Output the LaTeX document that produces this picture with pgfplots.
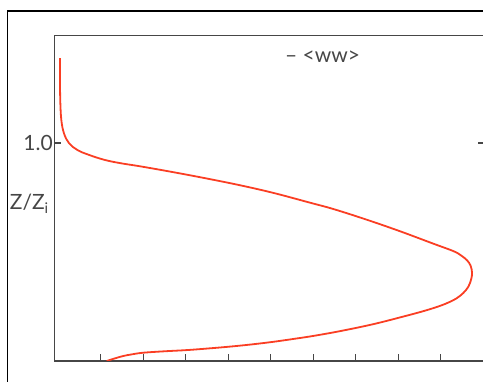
\documentclass[border=0pt]{standalone}
\usepackage{fontspec}
\setmainfont{Lato}
\usepackage{pgfplots}
\pgfplotsset{compat=1.18}
\definecolor{curve}{RGB}{250,62,35}
\definecolor{axisgray}{RGB}{70,70,70}
\begin{document}
\begin{tikzpicture}[x=1pt,y=1pt]
\clip (-54.3,-21) rectangle (428.7,361);
\draw[black,line width=1.5pt] (-47,-60) rectangle (460,350);
\begin{axis}[
  at={(0,0)}, anchor=south west,
  scale only axis,
  width=430.7pt, height=325.3pt,
  xmin=-0.092, xmax=10.04,
  ymin=0, ymax=1.492,
  axis line style={axisgray, line width=1.4pt},
  every tick/.style={axisgray, line width=1.2pt},
  tick align=inside,
  major tick length=6.5pt,
  xtick={1,2,3,4,5,6,7,8,9},
  xticklabels={},
  xtick pos=bottom,
  ytick={1},
  yticklabels={1.0},
  ytick pos=both,
  yticklabel style={font=\fontsize{21}{24}\selectfont, text=axisgray, xshift=2pt},
]
\addplot[curve, line width=1.8pt, smooth, tension=0.6] coordinates {
(1.141,0.000) (1.30,0.010) (1.532,0.023) (1.75,0.031) (2.002,0.038)
(2.5,0.0445) (3.024,0.050) (3.5,0.057) (4.042,0.066) (4.55,0.076)
(5.061,0.088) (5.53,0.101) (6.002,0.115) (6.631,0.137) (7.414,0.169)
(8.2,0.208) (8.65,0.232) (8.984,0.253) (9.20,0.270) (9.376,0.288)
(9.53,0.312) (9.649,0.341) (9.715,0.375) (9.735,0.405) (9.70,0.438)
(9.612,0.463) (9.47,0.485) (9.296,0.504) (8.826,0.538) (8.042,0.595)
(7.259,0.648) (6.473,0.697) (5.925,0.726) (5.061,0.771) (4.278,0.806)
(3.494,0.837) (2.708,0.866) (1.925,0.893) (1.471,0.907) (1.078,0.923)
(0.685,0.948) (0.449,0.968) (0.254,0.999) (0.136,1.044) (0.073,1.106)
(0.048,1.197) (0.042,1.300) (0.040,1.389)
};
\node[font=\fontsize{21}{24}\selectfont, text=axisgray, anchor=center] at (rel axis cs:0.623,0.935) {– <ww>};
\end{axis}
\node[font=\fontsize{21}{24}\selectfont, text=axisgray, anchor=base east] at (-2,151) {Z/Z\textsubscript{i}};
\end{tikzpicture}
\end{document}
